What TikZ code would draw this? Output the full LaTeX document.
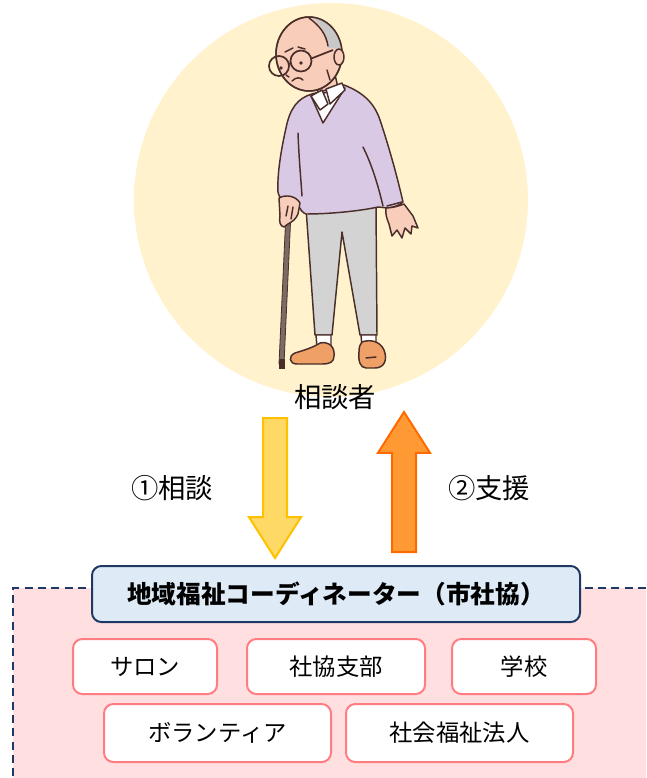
\documentclass[tikz,border=0pt]{standalone}
\usepackage{fontspec}
\newfontfamily\jp{Noto Sans CJK JP}
\usetikzlibrary{shapes.arrows,positioning}

\definecolor{glowyellow}{HTML}{FFF2CC}
\definecolor{navy}{HTML}{1F3864}
\definecolor{coordblue}{HTML}{DEEBF7}
\definecolor{salmon}{HTML}{FF7C80}
\definecolor{pinkbg}{HTML}{FFDFE0}
\definecolor{arrowyellow}{HTML}{FFD966}
\definecolor{arrowyellowline}{HTML}{FFC000}
\definecolor{arroworange}{HTML}{FF9933}
\definecolor{arroworangeline}{HTML}{FF6A00}
\definecolor{inkbrown}{HTML}{4A2E2A}
\definecolor{skin}{HTML}{F8CDB9}
\definecolor{hairgray}{HTML}{C8C8C8}
\definecolor{sweater}{HTML}{D9C9E4}
\definecolor{pantsgray}{HTML}{D3D3D3}
\definecolor{shoeorange}{HTML}{EFA066}
\definecolor{canegray}{HTML}{7A6B64}

\pgfdeclareradialshading{glow}{\pgfpoint{0bp}{0bp}}{color(0bp)=(glowyellow);color(47bp)=(glowyellow);color(50bp)=(white)}

\begin{document}
\begin{tikzpicture}[x=0.75pt,y=-0.75pt,
  every node/.style={font=\jp},
  steplabel/.style={font=\jp\fontsize{20.5}{24}\selectfont},
  coordbox/.style={draw=navy, fill=coordblue, line width=1.5pt, rounded corners=7pt, minimum width=366pt, minimum height=42pt, font=\jp\bfseries\fontsize{18.5}{21}\selectfont},
  memberbox/.style={draw=salmon, fill=white, line width=1.5pt, rounded corners=7pt, minimum height=41.25pt, font=\jp\fontsize{17.5}{20}\selectfont},
  blockarrow/.style={single arrow, inner xsep=0pt, inner ysep=8.25pt, single arrow head extend=10.5pt, single arrow tip angle=65, minimum height=105pt, line width=1.5pt, anchor=tail},
  askarrow/.style={blockarrow, draw=arrowyellowline, fill=arrowyellow, rotate=-90},
  helparrow/.style={blockarrow, draw=arroworangeline, fill=arroworange, rotate=90},
  outline/.style={draw=inkbrown, line width=1.1pt, line join=round, line cap=round}
]
\useasboundingbox (0,0) rectangle (646,778);

% soft circle behind the client
\shade[shading=glow] (331,200) circle (197);

% cane
\filldraw[fill=canegray, draw=inkbrown, line width=0.6pt] (286,212) -- (291,212) -- (284,364) -- (279,364) -- cycle;
\fill[inkbrown] (278.5,359) rectangle (284.5,369);

% trousers, socks and shoes
\filldraw[fill=pantsgray, outline] (306,208) -- (315,335) -- (332,335) -- (342,232) -- (360,335) -- (377,335) -- (376,206) -- cycle;
\filldraw[fill=white, outline] (316,335) -- (317,347) -- (331,347) -- (331,335) -- cycle;
\filldraw[fill=white, outline] (361,335) -- (362,346) -- (376,346) -- (376,335) -- cycle;
\filldraw[fill=shoeorange, outline] (320,343) .. controls (330,341) and (335,348) .. (334,356)
  .. controls (334,362) and (330,364) .. (322,364) -- (297,364)
  .. controls (289,364) and (288,356) .. (295,353)
  .. controls (305,350) and (314,347) .. (320,343) -- cycle;
\filldraw[fill=shoeorange, outline] (362,342) .. controls (370,339) and (380,341) .. (384,350)
  .. controls (388,360) and (384,368) .. (375,368) -- (366,368)
  .. controls (360,368) and (358,360) .. (359,352)
  .. controls (359,347) and (360,344) .. (362,342) -- cycle;
\draw[outline] (366,358) -- (376,357);

% neck
\filldraw[fill=skin, outline] (317,74) -- (334,70) -- (338,88) -- (318,97) -- cycle;

% sweater
\filldraw[fill=sweater, outline] (312,94) .. controls (298,98) and (290,108) .. (286,128)
  .. controls (281,150) and (277,175) .. (278,192)
  .. controls (279,200) and (288,204) .. (298,204)
  .. controls (300,210) and (303,213) .. (306,214)
  .. controls (330,214) and (360,211) .. (378,207)
  -- (388,208)
  .. controls (395,207) and (400,205) .. (403,202)
  .. controls (398,180) and (390,150) .. (380,120)
  .. controls (374,102) and (362,92) .. (344,85) -- cycle;
\draw[outline] (298,133) .. controls (299,160) and (301,180) .. (302,196);
\draw[outline] (363,147) .. controls (372,165) and (378,185) .. (383,206);
\draw[outline] (387,206) -- (402,202);

% shirt collar
\filldraw[fill=white, outline] (311,96) -- (323,123) -- (345,88) -- cycle;
\filldraw[fill=white, outline] (311,96) -- (322,90) -- (328,104) -- (320,110) -- cycle;
\filldraw[fill=white, outline] (326,89) -- (342,83) -- (345,90) -- (330,104) -- cycle;

% hands
\filldraw[fill=skin, outline] (279,198) .. controls (286,194) and (296,196) .. (300,203)
  -- (298,214) .. controls (296,219) and (292,222) .. (288,224)
  -- (284,227) .. controls (280,226) and (279,222) .. (280,216) -- cycle;
\draw[outline] (288,206) -- (286,216);
\draw[outline] (293,207) -- (291,219);
\filldraw[fill=skin, outline] (386,208) .. controls (392,208) and (399,206) .. (404,204)
  -- (413,216) -- (418,228) -- (412,226) -- (411,234) -- (405,228) -- (402,238)
  -- (397,230) -- (392,236) -- (389,224) .. controls (387,219) and (385,214) .. (386,208) -- cycle;

% head
\filldraw[fill=skin, outline] (309,54) ellipse [x radius=33, y radius=37];
\begin{scope}
  \clip (309,54) ellipse [x radius=33, y radius=37];
  \fill[hairgray] (302,10) .. controls (318,20) and (326,30) .. (328,48) -- (355,50) -- (355,10) -- cycle;
\end{scope}
\draw[outline] (309,54) ellipse [x radius=33, y radius=37];
\draw[outline] (309,18) .. controls (320,26) and (326,34) .. (328,46);
\filldraw[fill=skin, outline] (339,57) ellipse [x radius=5, y radius=8];
\draw[outline] (327,70) -- (330,80);

% face
\draw[inkbrown, line width=1.3pt] (279,66) circle (10) (301,61) circle (10.5);
\draw[inkbrown, line width=1.3pt] (289,64) -- (290.5,63.5) (311.3,58.5) -- (333,50);
\fill[inkbrown] (281,68) circle (1.8) (301,63) circle (1.8);
\draw[outline] (285,52) -- (293,48) (298,47) -- (305,49);
\draw[outline] (292,81) .. controls (296,77) and (300,77) .. (303,80);
\draw[outline] (286,75) -- (289,77);

\node[steplabel] (client) at (335,397) {相談者};

% consultation and support
\node[askarrow] (ask) at (275,417) {};
\node[helparrow] (help) at (404,553) {};
\node[steplabel] (asklabel) at (172,488) {①相談};
\node[steplabel] (helplabel) at (489,488) {②支援};

% local network
\fill[pinkbg] (13,588) rectangle (646,778);
\draw[navy, line width=1.5pt, dash pattern=on 6pt off 4pt] (646,588) -- (13,588) -- (13,778);

\node[coordbox] (coord) at (336,594) {地域福祉コーディネーター（市社協）};
\node[memberbox, minimum width=133.5pt, below=11.25pt of coord] (branch) {社協支部};
\node[memberbox, minimum width=108pt, left=21pt of branch] (salon) {サロン};
\node[memberbox, minimum width=108pt, right=18.75pt of branch] (school) {学校};
\node[memberbox, minimum width=170.25pt, minimum height=43.5pt, below=6pt of salon.south west, anchor=north west, xshift=23.25pt] (volunteer) {ボランティア};
\node[memberbox, minimum width=170.25pt, minimum height=43.5pt, right=9.75pt of volunteer] (corporation) {社会福祉法人};

\end{tikzpicture}
\end{document}
